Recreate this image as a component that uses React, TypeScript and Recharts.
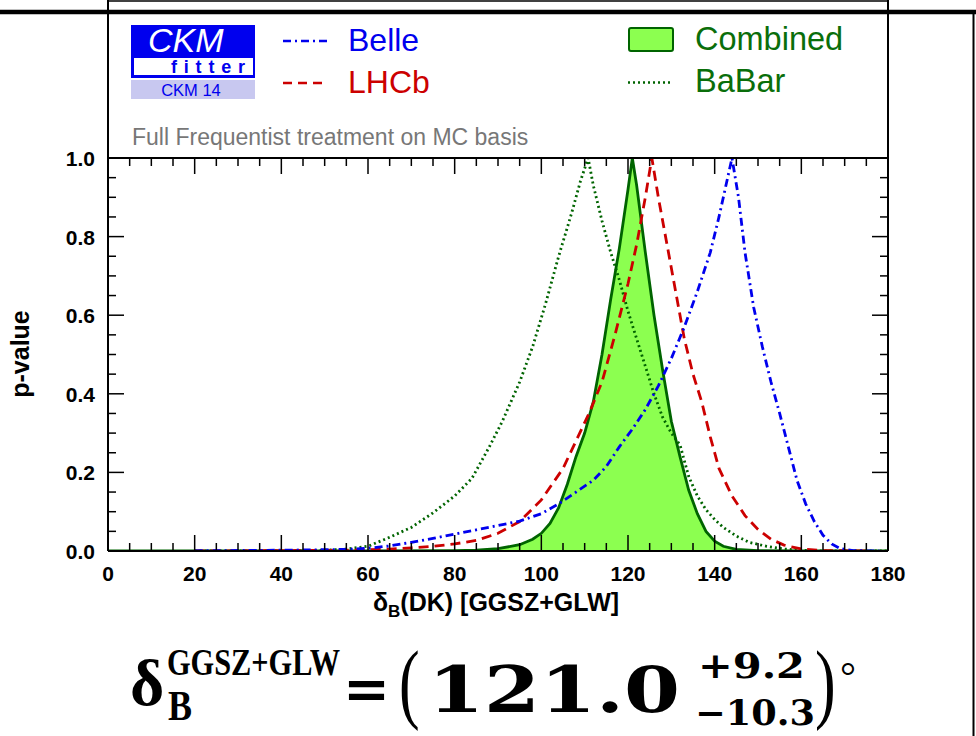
import React from "react";
import { Area, ComposedChart, Line, XAxis, YAxis } from "recharts";

// p-value scans: [delta_B in degrees, p-value]
const combined: [number, number][] = [
  [0, 0], [60, 0], [80, 0.001], [85, 0.002], [90, 0.006], [95, 0.016], [98, 0.03],
  [100, 0.045], [102, 0.07], [104, 0.11], [106, 0.17], [108, 0.24], [110, 0.3],
  [112, 0.38], [114, 0.5], [116, 0.64], [118, 0.77], [120, 0.92], [121, 1.0],
  [122, 0.93], [124, 0.76], [126, 0.6], [128, 0.46], [130, 0.33], [132, 0.24],
  [134, 0.155], [136, 0.095], [138, 0.05], [140, 0.025], [142, 0.012], [145, 0.004],
  [150, 0.001], [160, 0], [180, 0],
];

const lhcb: [number, number][] = [
  [20, 0], [40, 0.001], [55, 0.002], [60, 0.003], [65, 0.005], [70, 0.008], [75, 0.012],
  [80, 0.018], [85, 0.027], [90, 0.045], [95, 0.075], [100, 0.13], [105, 0.21],
  [108, 0.28], [111, 0.35], [114, 0.43], [117, 0.55], [120, 0.68], [122, 0.78],
  [124, 0.9], [125.5, 1.0], [127, 0.9], [129, 0.78], [131, 0.66], [133, 0.54],
  [135, 0.45], [137, 0.38], [139, 0.29], [141, 0.21], [144, 0.14], [147, 0.09],
  [150, 0.055], [153, 0.03], [156, 0.015], [160, 0.005], [165, 0.001], [175, 0],
];

const belle: [number, number][] = [
  [20, 0.0005], [40, 0.002], [55, 0.004], [60, 0.007], [65, 0.013], [70, 0.022],
  [75, 0.032], [80, 0.043], [85, 0.054], [90, 0.065], [95, 0.076], [100, 0.095],
  [104, 0.12], [108, 0.15], [112, 0.18], [115, 0.215], [118, 0.265], [121, 0.31],
  [124, 0.36], [127, 0.42], [130, 0.49], [133, 0.57], [136, 0.66], [139, 0.76],
  [141, 0.85], [143, 0.95], [144, 1.0], [145.5, 0.9], [147, 0.76], [149, 0.62],
  [151, 0.52], [153, 0.43], [155, 0.35], [157, 0.265], [159, 0.18], [161, 0.12],
  [163, 0.075], [165, 0.04], [167, 0.018], [169, 0.006], [172, 0.001], [178, 0],
];

const babar: [number, number][] = [
  [20, 0], [40, 0.0005], [50, 0.002], [55, 0.005], [60, 0.012], [65, 0.035], [70, 0.06],
  [75, 0.097], [80, 0.14], [84, 0.185], [88, 0.265], [91, 0.33], [95, 0.43],
  [98, 0.52], [101, 0.63], [104, 0.75], [107, 0.86], [109, 0.94], [110.8, 1.0],
  [112, 0.93], [114, 0.84], [116, 0.76], [118, 0.69], [120, 0.61], [122, 0.54],
  [124, 0.47], [126, 0.4], [128, 0.34], [130, 0.3], [132, 0.27], [134, 0.19],
  [136, 0.14], [138, 0.105], [140, 0.08], [142, 0.06], [145, 0.038], [148, 0.022],
  [152, 0.012], [156, 0.005], [160, 0.002], [165, 0], [180, 0],
];

const xMajorTicks = [0, 20, 40, 60, 80, 100, 120, 140, 160, 180];
const yMajorTicks = [0, 0.2, 0.4, 0.6, 0.8, 1.0];
const xTicks = Array.from({ length: 37 }, (_, i) => i * 5);
const yTicks = Array.from({ length: 21 }, (_, i) => (i * 5) / 100);

const allSeries = { combined, lhcb, belle, babar };
const xs = Array.from(
  new Set(Object.values(allSeries).flatMap((s) => s.map((d) => d[0])))
).sort((a, b) => a - b);
const table = xs.map((x) => {
  const row: Record<string, number> = { x };
  for (const [key, pts] of Object.entries(allSeries)) {
    const hit = pts.find((d) => d[0] === x);
    if (hit) row[key] = hit[1];
  }
  return row;
});

const BLUE = "#0000ee";
const RED = "#cc0000";
const DKGREEN = "#006400";
const LTGREEN = "#8cff50";
const SANS = "Liberation Sans, Arial, sans-serif";
const SERIF = "DejaVu Serif, serif";
const TIMES = "Liberation Serif, serif";

const isMajorX = (v: number) => xMajorTicks.includes(v);
const isMajorY = (v: number) => yMajorTicks.some((m) => Math.abs(m - v) < 1e-6);

function BottomTick({ x, y, payload }: any) {
  const major = isMajorX(payload.value);
  return (
    <g>
      <line x1={x} x2={x} y1={y} y2={y - (major ? 16 : 8)} stroke="#000" strokeWidth={1.5} />
      {major && (
        <text x={x} y={y + 30} textAnchor="middle" fontFamily={SANS} fontWeight="bold" fontSize={21} fill="#000">
          {payload.value}
        </text>
      )}
    </g>
  );
}

function TopTick({ x, y, payload }: any) {
  const major = isMajorX(payload.value);
  return <line x1={x} x2={x} y1={y} y2={y + (major ? 16 : 8)} stroke="#000" strokeWidth={1.5} />;
}

function LeftTick({ x, y, payload }: any) {
  const major = isMajorY(payload.value);
  return (
    <g>
      <line x1={x} x2={x + (major ? 16 : 8)} y1={y} y2={y} stroke="#000" strokeWidth={1.5} />
      {major && (
        <text x={x - 13} y={y + 8} textAnchor="end" fontFamily={SANS} fontWeight="bold" fontSize={21} fill="#000">
          {payload.value.toFixed(1)}
        </text>
      )}
    </g>
  );
}

function RightTick({ x, y, payload }: any) {
  const major = isMajorY(payload.value);
  return <line x1={x} x2={x - (major ? 16 : 8)} y1={y} y2={y} stroke="#000" strokeWidth={1.5} />;
}

function Decorations() {
  return (
    <svg width={976} height={736} style={{ position: "absolute", left: 0, top: 0, pointerEvents: "none" }}>
      {/* page frame pieces */}
      <line x1={108} x2={888} y1={1} y2={1} stroke="#000" strokeWidth={1.5} />
      <line x1={108} x2={108} y1={0} y2={158} stroke="#000" strokeWidth={2} />
      <line x1={888} x2={888} y1={0} y2={158} stroke="#000" strokeWidth={2} />
      <line x1={108} x2={888} y1={158} y2={158} stroke="#000" strokeWidth={2} />
      <line x1={0} x2={976} y1={12} y2={12} stroke="#000" strokeWidth={4.5} />
      <line x1={973.5} x2={973.5} y1={12} y2={736} stroke="#000" strokeWidth={2} />

      {/* CKMfitter logo */}
      <rect x={131} y={25} width={124} height={53} fill={BLUE} />
      <text x={148} y={52} fontFamily={SANS} fontStyle="italic" fontSize={34} fill="#fff">CKM</text>
      <rect x={134} y={58} width={119} height={17} fill="#fff" />
      <text x={171} y={73} fontFamily={SANS} fontWeight="bold" fontSize={18} letterSpacing={6.8} fill={BLUE}>fitter</text>
      <rect x={131} y={80} width={124} height={19} fill="#c8c8f0" />
      <text x={191} y={95.5} textAnchor="middle" fontFamily={SANS} fontSize={16.5} fill={BLUE}>CKM 14</text>

      {/* legend */}
      <line x1={283} x2={327} y1={41} y2={41} stroke={BLUE} strokeWidth={2.5} strokeDasharray="8 4 2 4" />
      <text x={348} y={51} fontFamily={SANS} fontSize={32} fill={BLUE}>Belle</text>
      <line x1={283} x2={327} y1={83} y2={83} stroke={RED} strokeWidth={2.5} strokeDasharray="9 6" />
      <text x={348} y={93} fontFamily={SANS} fontSize={32} fill={RED}>LHCb</text>
      <rect x={629} y={28} width={44} height={23} rx={2} fill={LTGREEN} stroke={DKGREEN} strokeWidth={2} />
      <text x={695} y={50} fontFamily={SANS} fontSize={32.5} fill="#0a6e0a">Combined</text>
      <line x1={628} x2={673} y1={82.5} y2={82.5} stroke={DKGREEN} strokeWidth={2.5} strokeDasharray="2 3" />
      <text x={695} y={92} fontFamily={SANS} fontSize={32.5} fill="#0a6e0a">BaBar</text>
      <text x={132} y={145} fontFamily={SANS} fontSize={23} fill="#777">Full Frequentist treatment on MC basis</text>

      {/* axis titles */}
      <text x={496} y={611} textAnchor="middle" fontFamily={SANS} fontWeight="bold" fontSize={25} fill="#000">
        δ<tspan fontSize={17} dy={6}>B</tspan>
        <tspan dy={-6}>(DK) [GGSZ+GLW]</tspan>
      </text>
      <text transform="translate(29,354) rotate(-90)" textAnchor="middle" fontFamily={SANS} fontWeight="bold" fontSize={25} fill="#000">
        p-value
      </text>

      {/* result */}
      <g fill="#000" fontWeight="bold">
        <text x={130} y={705} fontFamily={TIMES} fontSize={66}>δ</text>
        <text transform="translate(167,675) scale(1,1.3)" fontFamily={TIMES} fontSize={29.5} textLength={173} lengthAdjust="spacingAndGlyphs">GGSZ+GLW</text>
        <text transform="translate(168,720) scale(1,1.2)" fontFamily={TIMES} fontSize={36}>B</text>
        <text x={343} y={708} fontFamily={SERIF} fontSize={56} textLength={47} lengthAdjust="spacingAndGlyphs">=</text>
        <text x={428} y={712} fontFamily={SERIF} fontSize={64} textLength={252} lengthAdjust="spacingAndGlyphs">121.0</text>
        <text x={698} y={678} fontFamily={SERIF} fontSize={36} textLength={107} lengthAdjust="spacingAndGlyphs">+9.2</text>
        <text x={695} y={725} fontFamily={SERIF} fontSize={36} textLength={120} lengthAdjust="spacingAndGlyphs">−10.3</text>
      </g>
      <g fill="#000" fontFamily={TIMES}>
        <text transform="translate(399,712) scale(1,1.45)" fontSize={62}>(</text>
        <text transform="translate(815,712) scale(1,1.45)" fontSize={62}>)</text>
        <text x={840} y={690} fontSize={40}>°</text>
      </g>
    </svg>
  );
}

export default function App() {
  return (
    <div style={{ position: "absolute", left: 0, top: 0, width: 976, height: 736, background: "#fff" }}>
      <ComposedChart
        width={976}
        height={736}
        data={table}
        margin={{ top: 148, right: 78, bottom: 145, left: 48 }}
      >
        <XAxis
          dataKey="x"
          type="number"
          domain={[0, 180]}
          ticks={xTicks}
          interval={0}
          tickSize={0}
          tickMargin={0}
          tickLine={false}
          height={40}
          axisLine={{ stroke: "#000", strokeWidth: 2 }}
          tick={<BottomTick />}
          allowDataOverflow
        />
        <XAxis
          xAxisId="top"
          orientation="top"
          dataKey="x"
          type="number"
          domain={[0, 180]}
          ticks={xTicks}
          interval={0}
          tickSize={0}
          tickMargin={0}
          tickLine={false}
          height={10}
          axisLine={{ stroke: "#000", strokeWidth: 2 }}
          tick={<TopTick />}
          allowDataOverflow
        />
        <YAxis
          type="number"
          domain={[0, 1]}
          ticks={yTicks}
          interval={0}
          tickSize={0}
          tickMargin={0}
          tickLine={false}
          width={60}
          axisLine={{ stroke: "#000", strokeWidth: 2 }}
          tick={<LeftTick />}
          allowDataOverflow
        />
        <YAxis
          yAxisId="right"
          orientation="right"
          type="number"
          domain={[0, 1]}
          ticks={yTicks}
          interval={0}
          tickSize={0}
          tickMargin={0}
          tickLine={false}
          width={10}
          axisLine={{ stroke: "#000", strokeWidth: 2 }}
          tick={<RightTick />}
          allowDataOverflow
        />
        <Area
          type="linear"
          dataKey="combined"
          connectNulls
          fill={LTGREEN}
          fillOpacity={1}
          stroke={DKGREEN}
          strokeWidth={2.8}
          isAnimationActive={false}
          dot={false}
          activeDot={false}
        />
        <Line type="linear" dataKey="babar" connectNulls stroke={DKGREEN} strokeWidth={2.8} strokeDasharray="2 3" dot={false} activeDot={false} isAnimationActive={false} />
        <Line type="linear" dataKey="lhcb" connectNulls stroke={RED} strokeWidth={2.8} strokeDasharray="10 6" dot={false} activeDot={false} isAnimationActive={false} />
        <Line type="linear" dataKey="belle" connectNulls stroke={BLUE} strokeWidth={2.8} strokeDasharray="8 4 2 4" dot={false} activeDot={false} isAnimationActive={false} />
      </ComposedChart>
      <Decorations />
    </div>
  );
}
